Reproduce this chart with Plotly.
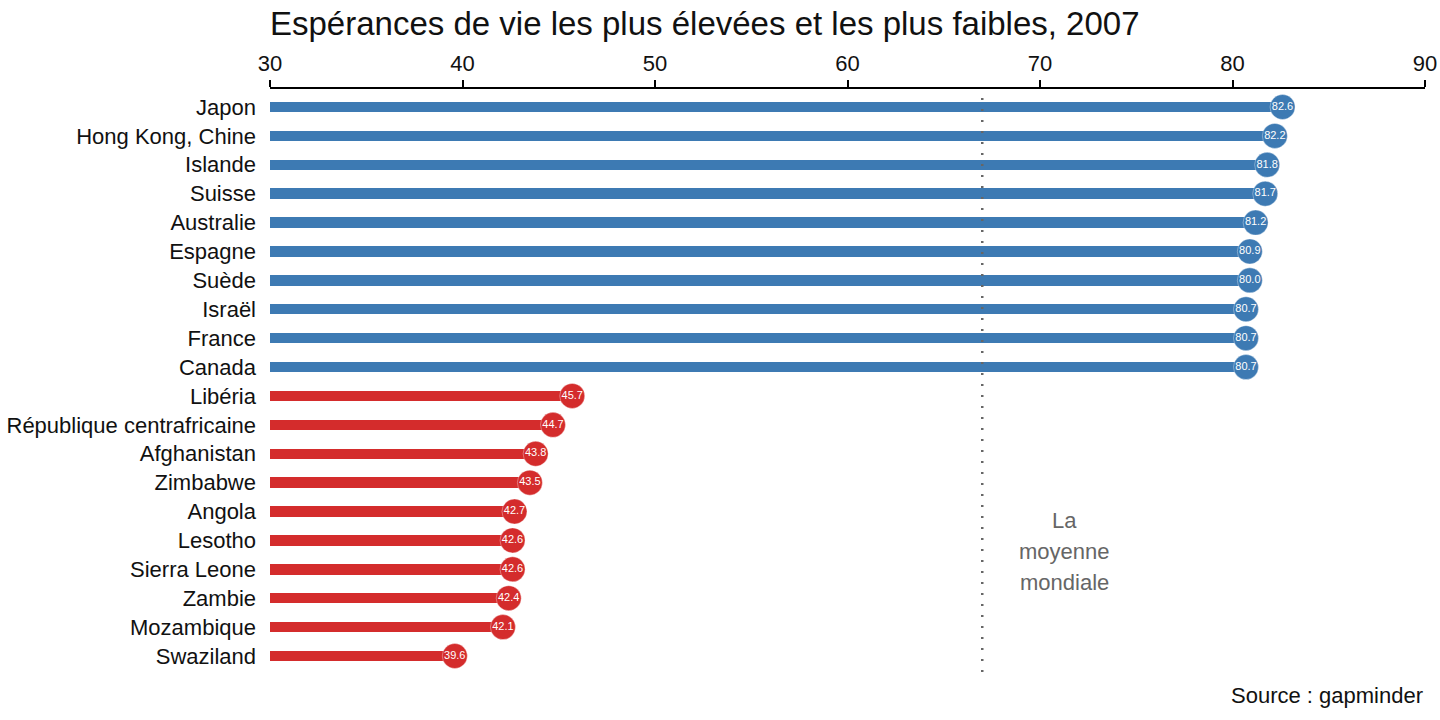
import plotly.graph_objects as go

countries = ["Japon", "Hong Kong, Chine", "Islande", "Suisse", "Australie", "Espagne",
             "Suède", "Israël", "France", "Canada",
             "Libéria", "République centrafricaine", "Afghanistan", "Zimbabwe", "Angola",
             "Lesotho", "Sierra Leone", "Zambie", "Mozambique", "Swaziland"]
life_exp = [82.6, 82.2, 81.8, 81.7, 81.2, 80.9, 80.9, 80.7, 80.7, 80.7,
            45.7, 44.7, 43.8, 43.5, 42.7, 42.6, 42.6, 42.4, 42.1, 39.6]
value_labels = ["82.6", "82.2", "81.8", "81.7", "81.2", "80.9", "80.0", "80.7", "80.7", "80.7",
                "45.7", "44.7", "43.8", "43.5", "42.7", "42.6", "42.6", "42.4", "42.1", "39.6"]
group = ["high"] * 10 + ["low"] * 10
world_mean = 67.0
mean_label_lines = ["La", "moyenne", "mondiale"]
x_ticks = [30, 40, 50, 60, 70, 80, 90]

BLUE = "#3d7ab3"
RED = "#d42c2c"
FONT = "Liberation Sans, Arial, sans-serif"

colors = [BLUE if g == "high" else RED for g in group]
idx = list(range(len(countries)))

fig = go.Figure()
fig.add_trace(go.Bar(
    x=[v - 30 for v in life_exp], base=30, y=idx, orientation="h",
    marker=dict(color=colors, line=dict(width=0)), width=0.36,
    hoverinfo="skip", showlegend=False,
))
fig.add_trace(go.Scatter(
    x=life_exp, y=idx, mode="markers+text", text=value_labels,
    textposition="middle center",
    textfont=dict(color="white", size=11, family=FONT),
    marker=dict(color=colors, size=25, line=dict(color="rgba(255,255,255,0.35)", width=1)),
    hoverinfo="skip", showlegend=False, cliponaxis=False,
))

fig.add_shape(type="line", x0=world_mean, x1=world_mean, y0=0, y1=1,
              xref="x", yref="paper",
              line=dict(color="#666666", width=2.5, dash="2px,9px"))

# stacked label lines, ~31px apart (1.07 row units)
for i, line in enumerate(mean_label_lines):
    fig.add_annotation(x=world_mean + 4.25, y=14.3 + 1.08 * i, xref="x", yref="y",
                       text=line, showarrow=False,
                       font=dict(size=22, color="#666666", family=FONT),
                       yanchor="middle", xanchor="center")

fig.add_annotation(x=1, y=-0.04, xref="paper", yref="paper", xanchor="right", yanchor="middle",
                   text="Source : gapminder", showarrow=False,
                   font=dict(size=22, color="#111111", family=FONT))

fig.update_layout(
    width=1440, height=720, autosize=False,
    margin=dict(l=270, r=15, t=89, b=48, autoexpand=False),
    paper_bgcolor="white", plot_bgcolor="white",
    font=dict(family=FONT, color="#111111"),
    title=dict(text="Espérances de vie les plus élevées et les plus faibles, 2007",
               x=270 / 1440, xanchor="left", xref="container",
               y=1 - 23 / 720, yanchor="middle", yref="container",
               font=dict(size=33, color="#111111", family=FONT)),
    xaxis=dict(range=[30, 90], side="top", tickvals=x_ticks,
               showgrid=False, zeroline=False,
               showline=True, linecolor="black", linewidth=2,
               ticks="outside", ticklen=7, tickwidth=2, tickcolor="black",
               tickfont=dict(size=22, color="#111111")),
    yaxis=dict(range=[19.554, -0.623], tickvals=idx, ticktext=countries,
               showgrid=False, zeroline=False, showline=False, ticks="",
               ticklabelstandoff=13,
               tickfont=dict(size=22, color="#111111")),
    bargap=0,
)

fig.write_html("out.html",
               config={"displayModeBar": False, "responsive": False},
               post_script="document.body.style.margin='0';document.body.style.overflow='hidden';")
